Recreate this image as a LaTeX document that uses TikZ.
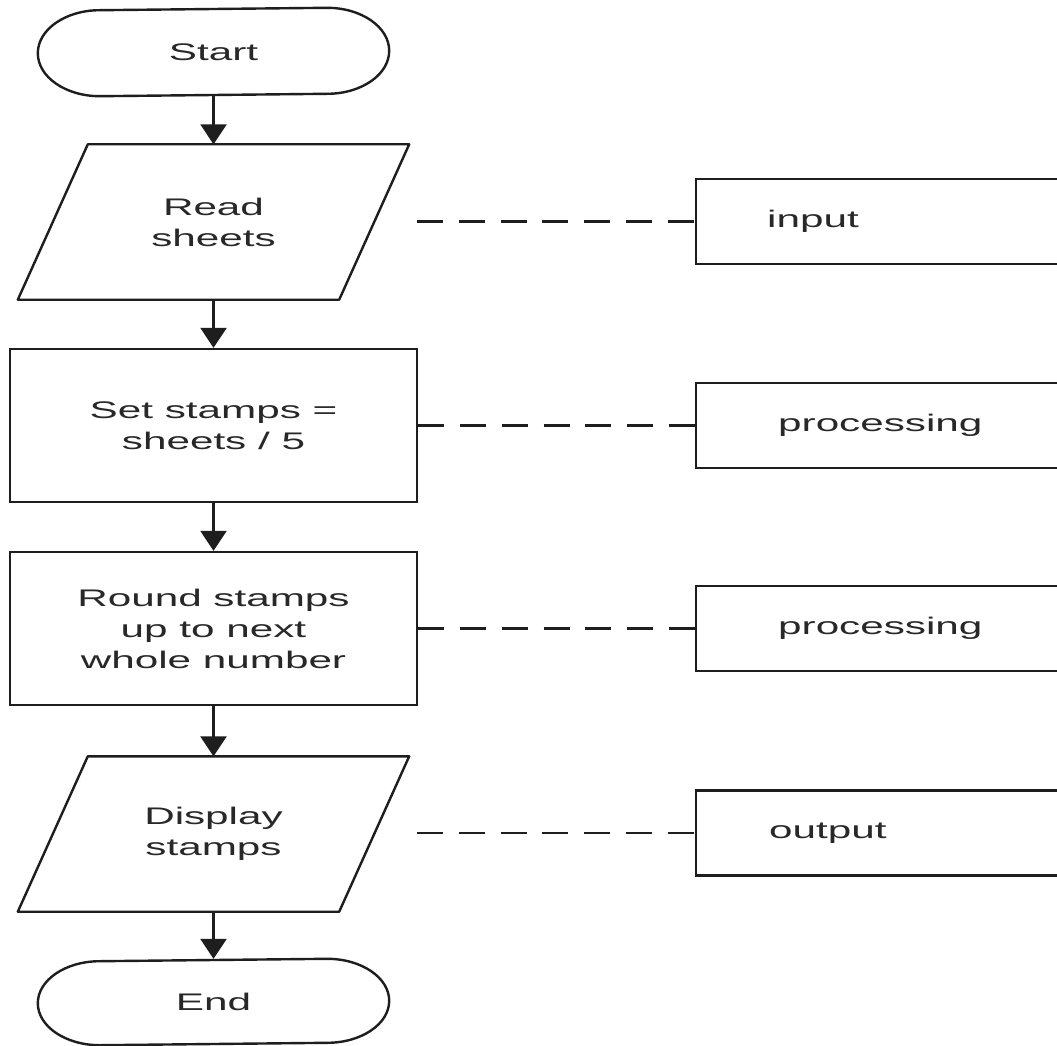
\documentclass[tikz,border=0pt]{standalone}
\usepackage{fontspec}
\newfontfamily\chartfont[FakeStretch=1.76]{Liberation Sans}
\usetikzlibrary{arrows.meta}
\definecolor{ink}{RGB}{30,30,30}
\definecolor{txt}{RGB}{40,40,40}
\begin{document}
\begin{tikzpicture}[x=1pt,y=-1pt,
  line width=2.4pt, draw=ink,
  every node/.style={font=\chartfont\fontsize{24}{31}\selectfont,
    text=txt, align=center, inner sep=0pt},
  terminal/.style={rectangle, minimum width=349pt, minimum height=86pt},
  iobox/.style={rectangle, minimum width=319pt, minimum height=153pt},
  procbox/.style={rectangle, draw=ink, line width=2.4pt, minimum width=407pt, minimum height=153pt},
  notebox/.style={rectangle, draw=ink, line width=2.4pt, anchor=west, minimum width=420pt, minimum height=85pt},
  notelabel/.style={anchor=west},
  flow/.style={draw=ink, line width=2.4pt, -{Triangle[width=26pt,length=20pt]}},
  dashline/.style={draw=ink, line width=2.2pt, dash pattern=on 26pt off 15.8pt},
  outline/.style={draw=ink, line width=2.4pt, line join=round}]

\clip (0,0) rectangle (1057,1046);
\fill[white] (0,0) rectangle (1057,1046);

% main flow
\node[terminal] (start) at (213.5,52) {Start};
\node[iobox] (read) at (213.5,222) {Read\\sheets};
\node[procbox] (set) at (213.5,425.5) {Set stamps =\\sheets / 5};
\node[procbox] (round) at (213.5,628.5) {Round stamps\\up to next\\whole number};
\node[iobox] (display) at (213.5,834) {Display\\stamps};
\node[terminal, minimum height=84pt] (end) at (213.5,1002) {End};

% terminal outlines with elliptical ends; the closing segment is the top edge
\foreach \t/\ry in {start/43, end/42}{
  \draw[outline] ([xshift=-62pt]\t.north east)
    arc[start angle=90, end angle=-90, x radius=62pt, y radius=\ry pt]
    -- ([xshift=62pt]\t.south west)
    arc[start angle=270, end angle=90, x radius=62pt, y radius=\ry pt] -- cycle;
}

% input/output parallelograms
\foreach \p in {read, display}{
  \draw[outline] ([xshift=35pt]\p.north west) -- ([xshift=35pt]\p.north east)
    -- ([xshift=-35pt]\p.south east) -- ([xshift=-35pt]\p.south west) -- cycle;
}

% arrows
\draw[flow] (start.south) -- (read.north);
\draw[flow] (read.south) -- (set.north);
\draw[flow] (set.south) -- (round.north);
\draw[flow] (round.south) -- (display.north);
\draw[flow] (display.south) -- (end.north);

% category boxes
\node[notebox] (inbox) at (695,221.5) {};
\node[notelabel] (inlabel) at (766,221.5) {input};
\node[notebox] (proc1) at (695,425.5) {};
\node[notelabel] (proc1label) at (777,425.5) {processing};
\node[notebox] (proc2) at (695,628.5) {};
\node[notelabel] (proc2label) at (777,628.5) {processing};
\node[notebox] (outbox) at (695,833) {};
\node[notelabel] (outlabel) at (768,833) {output};

% dashed links
\coordinate (readtap) at (417,221.5);
\coordinate (disptap) at (417,833);
\draw[dashline] (readtap) -- (inbox.west);
\draw[dashline] (set.east) -- (proc1.west);
\draw[dashline] (round.east) -- (proc2.west);
\draw[dashline] (disptap) -- (outbox.west);
\end{tikzpicture}
\end{document}
